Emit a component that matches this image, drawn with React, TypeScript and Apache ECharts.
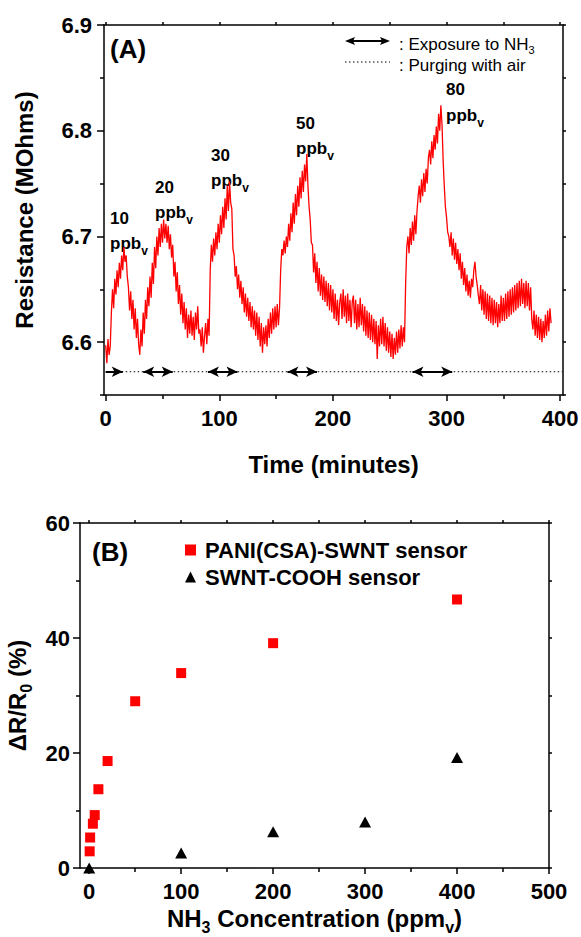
import React, { useEffect, useRef } from "react";
import * as echarts from "echarts";

// ---------- Panel A : resistance vs time ----------
// one reading per minute, starting at t = 0 min
const sampleIntervalMin = 1;
const resistanceMOhms: number[] = [
  6.597, 6.580, 6.603, 6.588, 6.596, 6.628, 6.650, 6.632, 6.660, 6.645,
  6.668, 6.652, 6.675, 6.660, 6.682, 6.668, 6.690, 6.676, 6.682, 6.662,
  6.652, 6.630, 6.648, 6.622, 6.640, 6.612, 6.632, 6.604, 6.622, 6.598,
  6.588, 6.612, 6.596, 6.628, 6.608, 6.640, 6.622, 6.652, 6.634, 6.662,
  6.642, 6.675, 6.655, 6.690, 6.670, 6.700, 6.682, 6.708, 6.690, 6.712,
  6.694, 6.716, 6.698, 6.712, 6.694, 6.710, 6.688, 6.702, 6.680, 6.692,
  6.662, 6.676, 6.648, 6.666, 6.636, 6.654, 6.626, 6.646, 6.618, 6.638,
  6.612, 6.632, 6.604, 6.626, 6.608, 6.630, 6.606, 6.624, 6.602, 6.628,
  6.612, 6.634, 6.608, 6.612, 6.596, 6.614, 6.590, 6.606, 6.618, 6.598,
  6.622, 6.606, 6.668, 6.692, 6.676, 6.698, 6.682, 6.704, 6.688, 6.712,
  6.694, 6.720, 6.702, 6.728, 6.708, 6.736, 6.716, 6.748, 6.724, 6.752,
  6.732, 6.726, 6.688, 6.682, 6.662, 6.672, 6.650, 6.664, 6.642, 6.658,
  6.636, 6.652, 6.628, 6.646, 6.624, 6.642, 6.620, 6.638, 6.614, 6.634,
  6.612, 6.630, 6.606, 6.628, 6.602, 6.624, 6.596, 6.618, 6.590, 6.614,
  6.598, 6.616, 6.596, 6.622, 6.604, 6.628, 6.608, 6.632, 6.612, 6.634,
  6.614, 6.636, 6.616, 6.632, 6.668, 6.688, 6.682, 6.696, 6.684, 6.700,
  6.690, 6.712, 6.696, 6.722, 6.704, 6.732, 6.712, 6.740, 6.720, 6.748,
  6.728, 6.756, 6.736, 6.762, 6.742, 6.768, 6.752, 6.778, 6.748, 6.728,
  6.716, 6.694, 6.692, 6.666, 6.684, 6.656, 6.676, 6.648, 6.670, 6.644,
  6.664, 6.640, 6.662, 6.638, 6.658, 6.634, 6.656, 6.630, 6.654, 6.628,
  6.650, 6.622, 6.646, 6.620, 6.640, 6.616, 6.638, 6.646, 6.622, 6.650,
  6.624, 6.644, 6.618, 6.646, 6.620, 6.640, 6.614, 6.638, 6.644, 6.618,
  6.640, 6.612, 6.636, 6.614, 6.642, 6.616, 6.636, 6.610, 6.634, 6.606,
  6.630, 6.604, 6.628, 6.602, 6.626, 6.600, 6.622, 6.598, 6.620, 6.584,
  6.616, 6.596, 6.622, 6.598, 6.624, 6.596, 6.618, 6.592, 6.614, 6.590,
  6.610, 6.586, 6.608, 6.584, 6.604, 6.588, 6.610, 6.590, 6.612, 6.594,
  6.616, 6.596, 6.614, 6.600, 6.656, 6.690, 6.700, 6.684, 6.708, 6.692,
  6.714, 6.696, 6.720, 6.702, 6.724, 6.738, 6.748, 6.732, 6.754, 6.738,
  6.760, 6.742, 6.764, 6.750, 6.774, 6.782, 6.768, 6.790, 6.774, 6.796,
  6.782, 6.804, 6.788, 6.816, 6.800, 6.824, 6.806, 6.772, 6.748, 6.728,
  6.718, 6.704, 6.700, 6.690, 6.704, 6.682, 6.698, 6.678, 6.694, 6.674,
  6.688, 6.668, 6.684, 6.660, 6.676, 6.654, 6.670, 6.648, 6.664, 6.644,
  6.658, 6.642, 6.660, 6.652, 6.668, 6.676, 6.662, 6.654, 6.644, 6.636,
  6.654, 6.630, 6.650, 6.626, 6.648, 6.622, 6.646, 6.620, 6.644, 6.618,
  6.642, 6.616, 6.640, 6.618, 6.638, 6.614, 6.636, 6.618, 6.644, 6.620,
  6.642, 6.620, 6.646, 6.622, 6.648, 6.624, 6.650, 6.626, 6.652, 6.628,
  6.654, 6.630, 6.656, 6.632, 6.658, 6.634, 6.660, 6.636, 6.656, 6.632,
  6.658, 6.634, 6.656, 6.630, 6.652, 6.622, 6.612, 6.630, 6.606, 6.626,
  6.604, 6.624, 6.602, 6.622, 6.600, 6.620, 6.604, 6.626, 6.606, 6.630,
  6.610, 6.632, 6.618,
];
const exposureWindows: [number, number][] = [
  [0, 15], [33, 59], [90, 116], [160, 186], [270, 305],
];
const purgeLineRange: [number, number] = [0, 402];
const markerLevel = 6.572;
const peakConcentrations = ["10", "20", "30", "50", "80"];

const timeTickLabels = [0, 100, 200, 300, 400];
const timeMinorTicks = [50, 150, 250, 350];
const timeAllTicks = [0, 50, 100, 150, 200, 250, 300, 350, 400];
const resTickLabels = [6.6, 6.7, 6.8, 6.9];
const resMinorTicks = [6.55, 6.65, 6.75, 6.85];
const resAllTicks = [6.55, 6.6, 6.65, 6.7, 6.75, 6.8, 6.85, 6.9];

// ---------- Panel B : response vs NH3 concentration ----------
const paniConcPpm = [0.5, 1, 4, 6, 10, 20, 50, 100, 200, 400];
const paniResponsePct = [2.9, 5.3, 7.7, 9.2, 13.7, 18.6, 29.0, 33.9, 39.1, 46.7];
const coohConcPpm = [0, 100, 200, 300, 400];
const coohResponsePct = [0, 2.6, 6.3, 8.0, 19.2];

const concTickLabels = [0, 100, 200, 300, 400, 500];
const concMinorTicks = [50, 150, 250, 350, 450];
const concAllTicks = [0, 50, 100, 150, 200, 250, 300, 350, 400, 450, 500];
const respTickLabels = [0, 20, 40, 60];
const respMinorTicks = [10, 30, 50];
const respAllTicks = [0, 10, 20, 30, 40, 50, 60];

// ---------- styling ----------
const FONT = "'Liberation Sans', Arial, Helvetica, sans-serif";
const BLACK = "#000000";
const RED = "#ff0000";
const AXIS_W = 1.5;

const labelStyle = {
  color: BLACK,
  fontFamily: FONT,
  fontWeight: "bold" as const,
  fontSize: 22,
};
const nameStyle = {
  color: BLACK,
  fontFamily: FONT,
  fontWeight: "bold" as const,
  fontSize: 24,
};

function axis(opts: {
  grid: number;
  position: string;
  min: number;
  max: number;
  ticks: number[];
  tickLen: number;
  line: boolean;
  labels?: number[];
  labelMargin?: number;
  formatter?: (v: number) => string;
  extra?: any;
}) {
  return {
    type: "value",
    gridIndex: opts.grid,
    position: opts.position,
    min: opts.min,
    max: opts.max,
    splitLine: { show: false },
    axisLine: {
      show: opts.line,
      onZero: false,
      lineStyle: { color: BLACK, width: AXIS_W },
    },
    axisTick: {
      show: true,
      inside: false,
      length: opts.tickLen,
      customValues: opts.ticks,
      lineStyle: { color: BLACK, width: AXIS_W },
    },
    axisLabel: opts.labels
      ? {
          show: true,
          customValues: opts.labels,
          margin: opts.labelMargin ?? 10,
          formatter: opts.formatter,
          ...labelStyle,
        }
      : { show: false },
    ...(opts.extra || {}),
  };
}

const subRich = (size: number, h: number) => ({
  fontFamily: FONT,
  fontWeight: "bold" as const,
  fontSize: size,
  color: BLACK,
  verticalAlign: "bottom" as const,
  height: h,
  lineHeight: h,
});

const mainRich = (size: number, lh: number, weight: "bold" | "normal" = "bold") => ({
  fontFamily: FONT,
  fontWeight: weight,
  fontSize: size,
  color: BLACK,
  lineHeight: lh,
});

// positions of the annotations (pixels)
const peakLabelPos = [
  [110, 218, 243],
  [155, 187, 212],
  [211, 155, 180],
  [296, 123, 148],
  [446, 89, 115],
];

function buildOption() {
  const resData = resistanceMOhms.map((v, i) => [i * sampleIntervalMin, v]);

  const arrowLines = exposureWindows.map(([a, b], i) => [
    {
      coord: [a, markerLevel],
      symbol: i === 0 ? "none" : "arrow",
      symbolSize: [8, 11],
      lineStyle: { color: BLACK, width: 2, type: "solid" },
    },
    {
      coord: [b, markerLevel],
      symbol: "arrow",
      symbolSize: [8, 11],
      lineStyle: { color: BLACK, width: 2, type: "solid" },
    },
  ]);

  const graphics: any[] = [
    {
      type: "text",
      x: 110,
      y: 49,
      style: {
        text: "(A)",
        fill: BLACK,
        font: `bold 26px ${FONT}`,
        verticalAlign: "middle",
      },
    },
    {
      type: "text",
      x: 92,
      y: 552,
      style: {
        text: "(B)",
        fill: BLACK,
        font: `bold 26px ${FONT}`,
        verticalAlign: "middle",
      },
    },
    // legend of panel A
    {
      type: "line",
      shape: { x1: 352, y1: 41, x2: 383, y2: 41 },
      style: { stroke: BLACK, lineWidth: 2 },
    },
    {
      type: "polygon",
      shape: { points: [[345, 41], [355, 37], [353, 41], [355, 45]] },
      style: { fill: BLACK },
    },
    {
      type: "polygon",
      shape: { points: [[390, 41], [380, 37], [382, 41], [380, 45]] },
      style: { fill: BLACK },
    },
    {
      type: "line",
      shape: { x1: 345, y1: 62, x2: 390, y2: 62 },
      style: { stroke: BLACK, lineWidth: 1, lineDash: [1.5, 2.5] },
    },
    {
      type: "text",
      x: 399,
      y: 44,
      style: {
        text: "{m|: Exposure to NH}{s|3}",
        verticalAlign: "middle",
        rich: {
          m: mainRich(17, 24, "normal"),
          s: { ...subRich(11, 12), fontWeight: "normal" },
        },
      },
    },
    {
      type: "text",
      x: 399,
      y: 65,
      style: {
        text: ": Purging with air",
        fill: BLACK,
        font: `17px ${FONT}`,
        verticalAlign: "middle",
      },
    },
  ];

  peakConcentrations.forEach((c, i) => {
    const [x, yNum, yUnit] = peakLabelPos[i];
    graphics.push({
      type: "text",
      x,
      y: yNum,
      style: {
        text: c,
        fill: BLACK,
        font: `bold 17px ${FONT}`,
        verticalAlign: "middle",
      },
    });
    graphics.push({
      type: "text",
      x,
      y: yUnit,
      style: {
        text: "{m|ppb}{s|v}",
        verticalAlign: "middle",
        rich: { m: mainRich(17, 24), s: subRich(12, 8) },
      },
    });
  });

  return {
    animation: false,
    backgroundColor: "#ffffff",
    textStyle: { fontFamily: FONT },
    grid: [
      { left: 104, top: 25, width: 459, height: 370, outerBoundsMode: "none", containLabel: false },
      { left: 80, top: 523, width: 469, height: 345, outerBoundsMode: "none", containLabel: false },
    ],
    xAxis: [
      axis({
        grid: 0, position: "bottom", min: -1.5, max: 402.5,
        ticks: timeTickLabels, tickLen: 6, line: true, labels: timeTickLabels, labelMargin: 12,
        extra: {
          name: "Time (minutes)", nameLocation: "middle", nameGap: 57,
          nameTextStyle: nameStyle,
        },
      }),
      axis({ grid: 0, position: "bottom", min: -1.5, max: 402.5, ticks: timeMinorTicks, tickLen: 4, line: false }),
      axis({ grid: 0, position: "top", min: -1.5, max: 402.5, ticks: timeAllTicks, tickLen: 3, line: true }),
      axis({
        grid: 1, position: "bottom", min: -10, max: 500,
        ticks: concTickLabels, tickLen: 6, line: true, labels: concTickLabels, labelMargin: 12,
        extra: {
          name: "{m|NH}{s|3}{m| Concentration (ppm}{v|v}{m|)}",
          nameLocation: "middle",
          nameGap: 34,
          nameTextStyle: {
            ...nameStyle,
            rich: { m: mainRich(24, 32), s: subRich(16, 14), v: subRich(16, 13) },
          },
        },
      }),
      axis({ grid: 1, position: "bottom", min: -10, max: 500, ticks: concMinorTicks, tickLen: 4, line: false }),
      axis({ grid: 1, position: "top", min: -10, max: 500, ticks: concAllTicks, tickLen: 3, line: true }),
    ],
    yAxis: [
      axis({
        grid: 0, position: "left", min: 6.55, max: 6.9,
        ticks: resTickLabels, tickLen: 7, line: true, labels: resTickLabels, labelMargin: 12,
        formatter: (v: number) => v.toFixed(1),
        extra: {
          name: "Resistance (MOhms)", nameLocation: "middle", nameGap: 68, nameRotate: 90,
          nameTextStyle: nameStyle,
        },
      }),
      axis({ grid: 0, position: "left", min: 6.55, max: 6.9, ticks: resMinorTicks, tickLen: 4, line: false }),
      axis({ grid: 0, position: "right", min: 6.55, max: 6.9, ticks: resAllTicks, tickLen: 3, line: true }),
      axis({
        grid: 1, position: "left", min: 0, max: 60,
        ticks: respTickLabels, tickLen: 7, line: true, labels: respTickLabels, labelMargin: 10,
        extra: {
          name: "{m|ΔR/R}{s|0}{m| (%)}",
          nameLocation: "middle",
          nameGap: 44,
          nameRotate: 90,
          nameTextStyle: {
            ...nameStyle,
            rich: { m: mainRich(24, 32), s: subRich(16, 14) },
          },
        },
      }),
      axis({ grid: 1, position: "left", min: 0, max: 60, ticks: respMinorTicks, tickLen: 4, line: false }),
      axis({ grid: 1, position: "right", min: 0, max: 60, ticks: respAllTicks, tickLen: 3, line: true }),
    ],
    legend: {
      show: true,
      orient: "vertical",
      left: 180,
      top: 533,
      itemWidth: 11,
      itemHeight: 11,
      itemGap: 3,
      selectedMode: false,
      textStyle: { ...labelStyle, fontSize: 22, lineHeight: 24, padding: [0, 0, 0, 4] },
      data: [
        { name: "PANI(CSA)-SWNT sensor", icon: "rect" },
        { name: "SWNT-COOH sensor", icon: "triangle" },
      ],
    },
    graphic: graphics,
    series: [
      {
        name: "purge",
        type: "line",
        xAxisIndex: 0,
        yAxisIndex: 0,
        data: [
          [purgeLineRange[0], markerLevel],
          [purgeLineRange[1], markerLevel],
        ],
        showSymbol: false,
        symbol: "none",
        silent: true,
        lineStyle: { color: BLACK, width: 1, type: [1.5, 2.5] },
        markLine: {
          silent: true,
          label: { show: false },
          emphasis: { disabled: true },
          data: arrowLines,
        },
        z: 3,
      },
      {
        name: "resistance",
        type: "line",
        xAxisIndex: 0,
        yAxisIndex: 0,
        data: resData,
        showSymbol: false,
        symbol: "none",
        silent: true,
        lineStyle: { color: RED, width: 1.3 },
        z: 2,
      },
      {
        name: "PANI(CSA)-SWNT sensor",
        type: "scatter",
        xAxisIndex: 3,
        yAxisIndex: 3,
        symbol: "rect",
        symbolSize: 10,
        itemStyle: { color: RED, opacity: 1 },
        data: paniConcPpm.map((c, i) => [c, paniResponsePct[i]]),
        z: 3,
      },
      {
        name: "SWNT-COOH sensor",
        type: "scatter",
        xAxisIndex: 3,
        yAxisIndex: 3,
        symbol: "triangle",
        symbolSize: [12, 11],
        clip: true,
        itemStyle: { color: BLACK, opacity: 1 },
        data: coohConcPpm.map((c, i) => [c, coohResponsePct[i]]),
        z: 3,
      },
    ],
  };
}

export default function App() {
  const ref = useRef<HTMLDivElement>(null);
  useEffect(() => {
    document.body.style.margin = "0";
    const chart = echarts.init(ref.current as HTMLDivElement, null, { renderer: "svg" });
    chart.setOption(buildOption() as any);
    return () => chart.dispose();
  }, []);
  return <div ref={ref} style={{ width: 581, height: 937 }} />;
}
